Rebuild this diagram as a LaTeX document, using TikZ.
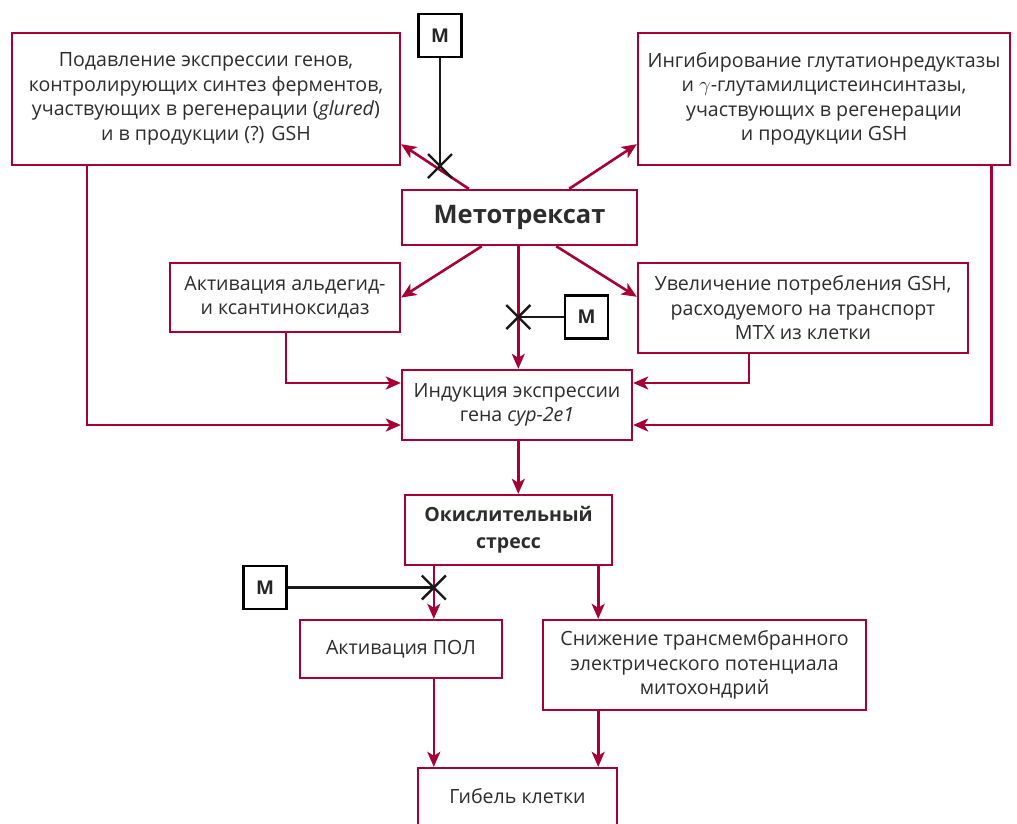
\documentclass[tikz,border=0pt]{standalone}
\usepackage{fontspec}
\setmainfont{Open Sans}
\usetikzlibrary{arrows.meta,calc}
\definecolor{crim}{RGB}{166,0,52}
\definecolor{txt}{RGB}{45,45,45}
\begin{document}
\begin{tikzpicture}[x=1pt,y=-1pt,
  box/.style={draw=crim, line width=2.4pt, fill=white, inner sep=0pt, align=center,
    text=txt, font=\fontsize{19.6}{24.5}\selectfont},
  mbox/.style={draw=black, line width=2.4pt, fill=white, minimum width=43pt, minimum height=43pt,
    inner sep=0pt, font=\bfseries\fontsize{19}{20}\selectfont, text=black!85},
  arr/.style={draw=crim, line width=2.6pt, -{Stealth[length=15pt,width=13pt,inset=4pt]}},
  blk/.style={draw=black!90, line width=2.8pt},
  crossmark/.style={draw=black!90, line width=2.4pt}
]
\clip (0,0) rectangle (1017,823);
\fill[white] (0,0) rectangle (1017,823);

\node[box, minimum width=388pt, minimum height=132pt] (tl) at (206,99)
  {Подавление экспрессии генов,\\контролирующих синтез ферментов,\\участвующих в регенерации (\textit{glured})\\и в продукции (?) GSH};
\node[box, minimum width=372pt, minimum height=132pt] (tr) at (824,99)
  {Ингибирование глутатионредуктазы\\и $\gamma$-глутамилцистеинсинтазы,\\участвующих в регенерации\\и продукции GSH};
\node[box, minimum width=235pt, minimum height=55pt, font=\bfseries\fontsize{25.5}{28}\selectfont] (mtx) at (519.5,217.5)
  {Метотрексат};
\node[box, minimum width=230pt, minimum height=69pt] (ald) at (285,297.5)
  {Активация альдегид-\\и ксантиноксидаз};
\node[box, minimum width=330pt, minimum height=90pt] (uvel) at (803,308)
  {Увеличение потребления GSH,\\расходуемого на транспорт\\MTX из клетки};
\node[box, minimum width=230pt, minimum height=70pt] (ind) at (517,405)
  {Индукция экспрессии\\гена \textit{cyp-2e1}};
\node[box, minimum width=207pt, minimum height=70pt, font=\bfseries\fontsize{19.5}{27}\selectfont] (oks) at (508.5,530)
  {Окислительный\\стресс};
\node[box, minimum width=202pt, minimum height=58pt] (pol) at (401,649)
  {Активация ПОЛ};
\node[box, minimum width=323pt, minimum height=90pt] (sniz) at (704.5,665)
  {Снижение трансмембранного\\электрического потенциала\\митохондрий};
\node[box, minimum width=199pt, minimum height=80pt, text depth=24pt] (gib) at (517.5,808)
  {Гибель клетки};

% M boxes
\node[mbox] (m1) at (440,35.5) {M};
\node[mbox] (m2) at (586.5,317) {M};
\node[mbox] (m3) at (265,587.5) {M};

% arrows from methotrexate
\draw[arr] ($(mtx.north west)+(68,0)$) -- ($(tl.south east)+(0,-22)$);
\draw[arr] ($(mtx.north east)+(-69,0)$) -- ($(tr.south west)+(0,-22)$);
\draw[arr] ($(mtx.south west)+(81,0)$) -- (ald.east);
\coordinate (mv) at ($(mtx.south west)+(117.5,0)$);
\draw[arr] (mv) -- (mv |- ind.north);
\draw[arr] ($(mtx.south east)+(-82,0)$) -- ($(uvel.north west)+(0,35)$);

% into induction
\coordinate (a1) at ($(ald.south west)+(117,0)$);
\draw[arr] (a1) |- ($(ind.west)+(0,-22)$);
\coordinate (a2) at ($(tl.south west)+(76,0)$);
\draw[arr] (a2) |- ($(ind.west)+(0,20)$);
\coordinate (a3) at ($(uvel.south west)+(112,0)$);
\draw[arr] (a3) |- ($(ind.east)+(0,-22)$);
\coordinate (a4) at ($(tr.south east)+(-20,0)$);
\draw[arr] (a4) |- ($(ind.east)+(0,20)$);

\draw[arr] (mv |- ind.south) -- (mv |- oks.north);

\coordinate (o1) at ($(oks.south west)+(30,0)$);
\coordinate (o2) at ($(oks.south east)+(-15,0)$);
\draw[arr] (o1) -- (o1 |- pol.north);
\draw[arr] (o2) -- (o2 |- sniz.north);
\draw[arr] (o1 |- pol.south) -- (o1 |- gib.north);
\draw[arr] (o2 |- sniz.south) -- (o2 |- gib.north);

% inhibitions
\coordinate (x1) at (440,166);
\coordinate (x2) at (mv |- m2.west);
\coordinate (x3) at (o1 |- m3.east);
\draw[blk] (m1.south) -- (x1);
\draw[blk] (m2.west) -- (x2);
\draw[blk] (m3.east) -- (x3);
\foreach \c in {x1,x2,x3}{
  \draw[crossmark] ($(\c)+(-12,-12)$) -- ($(\c)+(12,12)$);
  \draw[crossmark] ($(\c)+(-12,12)$) -- ($(\c)+(12,-12)$);
}
\end{tikzpicture}
\end{document}
